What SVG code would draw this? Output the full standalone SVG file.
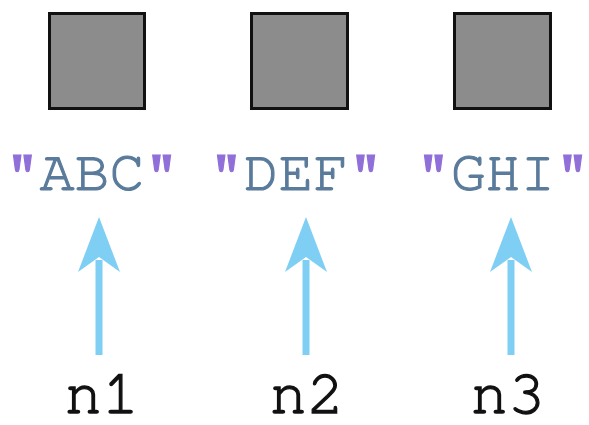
<svg xmlns="http://www.w3.org/2000/svg" width="589" height="425" viewBox="0 0 589 425">
<style>
.box{fill:#8c8c8c;stroke:#111;stroke-width:3}
.str{font-family:"Nimbus Mono PS","FreeMono","Courier 10 Pitch","Liberation Mono",monospace;font-size:58px;fill:#5a7b9b;text-anchor:middle;stroke:#5a7b9b;stroke-width:1.2}
.q{fill:#9070d8;stroke:#9070d8}
.var{font-family:"Nimbus Mono PS","FreeMono","Courier 10 Pitch","Liberation Mono",monospace;font-size:62px;fill:#111;text-anchor:middle;stroke:#111;stroke-width:1.3}
.shaft{stroke:#7fcff4;stroke-width:7;fill:none}
.head{fill:#7fcff4}
</style>
<rect width="589" height="425" fill="#fff"/>
<g id="node1">
<rect class="box" x="49.5" y="13.5" width="95" height="95"/>
<text class="str" x="92" y="190"><tspan class="q">"</tspan>ABC<tspan class="q">"</tspan></text>
<text class="var" x="102" y="413">n1</text>
</g>
<g id="node2">
<rect class="box" x="251.5" y="13.5" width="96" height="95"/>
<text class="str" x="296" y="190"><tspan class="q">"</tspan>DEF<tspan class="q">"</tspan></text>
<text class="var" x="307" y="413">n2</text>
</g>
<g id="node3">
<rect class="box" x="454.5" y="13.5" width="96" height="95"/>
<text class="str" x="503" y="190"><tspan class="q">"</tspan>GHI<tspan class="q">"</tspan></text>
<text class="var" x="508" y="413">n3</text>
</g>
<g id="connectors">
<line class="shaft" x1="99" y1="355" x2="99" y2="260"/>
<path class="head" d="M99 217 L120 272 L99 257 L78 272 Z"/>
<line class="shaft" x1="306" y1="355" x2="306" y2="260"/>
<path class="head" d="M306 217 L327 272 L306 257 L285 272 Z"/>
<line class="shaft" x1="511" y1="355" x2="511" y2="260"/>
<path class="head" d="M511 217 L532 272 L511 257 L490 272 Z"/>
</g>
</svg>
